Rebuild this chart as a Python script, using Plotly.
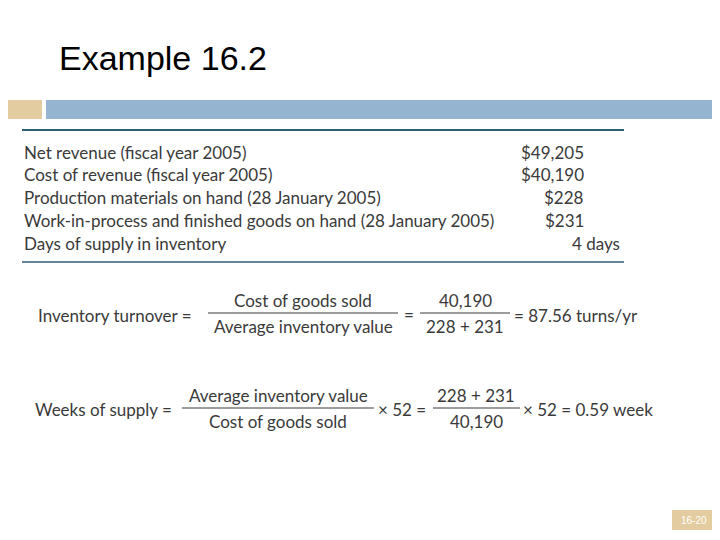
import plotly.graph_objects as go

title = "Example 16.2"
row_labels = [
    "Net revenue (fiscal year 2005)",
    "Cost of revenue (fiscal year 2005)",
    "Production materials on hand (28 January 2005)",
    "Work-in-process and finished goods on hand (28 January 2005)",
    "Days of supply in inventory",
]
row_values = ["$49,205", "$40,190", "$228", "$231", "4 days"]
page_label = "16-20"

FONT = "Lato, Open Sans, sans-serif"
TXT = "#3a3a3a"

fig = go.Figure()
shapes = []
ann = []

def text(x, y, s, size=17, anchor="left", color=TXT, font=FONT):
    ann.append(dict(x=x, y=y, text=s, showarrow=False, xanchor=anchor, yanchor="middle",
                    font=dict(size=size, color=color, family=font)))

def line(x0, x1, y, color=TXT, width=1):
    shapes.append(dict(type="line", x0=x0, x1=x1, y0=y, y1=y, line=dict(color=color, width=width)))

# header
text(57, 58, title, size=34, color="#000000", font="Liberation Sans, Arial, sans-serif")
shapes.append(dict(type="rect", x0=0, x1=42, y0=100, y1=119, fillcolor="#e3cca0", line_width=0))
shapes.append(dict(type="rect", x0=46, x1=720, y0=100, y1=119, fillcolor="#95b4d0", line_width=0))

# table
line(22, 624, 130, color="#2d5f73", width=2)
line(22, 624, 262, color="#2d5f73", width=1.5)
row_y = [152, 174, 197, 220, 243]
for i, (lab, val) in enumerate(zip(row_labels, row_values)):
    text(22, row_y[i], lab)
    text(622 if i == len(row_labels) - 1 else 586, row_y[i], val, anchor="right")

def frac(cx, x0, x1, y, num, den):
    text(cx, y - 13, num, anchor="center")
    text(cx, y + 13, den, anchor="center")
    line(x0, x1, y)

# formula 1
text(36, 315, "Inventory turnover =")
frac(303, 208, 398, 313, "Cost of goods sold", "Average inventory value")
text(409, 314, "=", anchor="center")
frac(465, 420, 510, 313, "40,190", "228 + 231")
text(512, 315, "= 87.56 turns/yr")

# formula 2
text(33, 409, "Weeks of supply =")
frac(278, 182, 374, 408, "Average inventory value", "Cost of goods sold")
text(376, 409, "× 52 =")
frac(476, 433, 520, 408, "228 + 231", "40,190")
text(521, 409, "× 52 = 0.59 week")

# page number
shapes.append(dict(type="rect", x0=672, x1=716, y0=510, y1=530, fillcolor="#e3cca0", line_width=0))
text(694, 520, page_label, size=10, anchor="center", color="white", font="Liberation Sans, Arial, sans-serif")

for a in ann:
    a.update(xref="x", yref="y")
for s in shapes:
    s.update(xref="x", yref="y")

# the page body adds an 8px margin, so shift the ranges to compensate
fig.update_layout(
    width=720, height=540, margin=dict(l=0, r=0, t=0, b=0),
    paper_bgcolor="white", plot_bgcolor="white",
    xaxis=dict(range=[8, 728], visible=False, fixedrange=True),
    yaxis=dict(range=[548, 8], visible=False, fixedrange=True),
    shapes=shapes, annotations=ann, showlegend=False,
)
fig.write_html("out.html")
